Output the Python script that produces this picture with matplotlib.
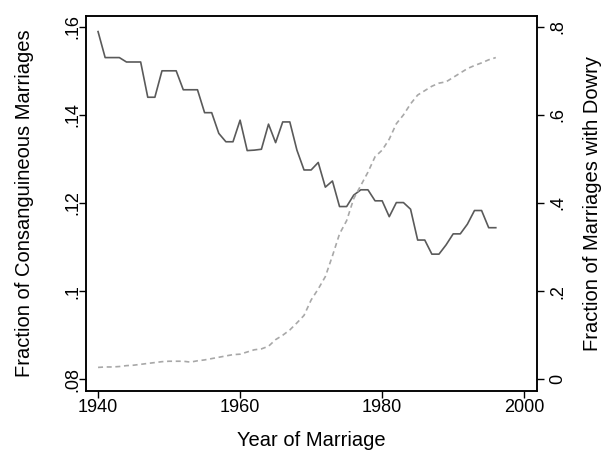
import matplotlib
matplotlib.use("Agg")
import matplotlib.pyplot as plt

# Year of marriage, 1940-1996
years = list(range(1940, 1997))

# Fraction of consanguineous marriages (left axis)
consang = [0.1589, 0.1530, 0.1530, 0.1530, 0.1520, 0.1520, 0.1520, 0.1440, 0.1440, 0.1500,
           0.1500, 0.1500, 0.1457, 0.1457, 0.1457, 0.1405, 0.1405, 0.1358, 0.1339, 0.1339,
           0.1388, 0.1319, 0.1320, 0.1322, 0.1379, 0.1337, 0.1384, 0.1384, 0.1320, 0.1275,
           0.1275, 0.1292, 0.1236, 0.1250, 0.1192, 0.1192, 0.1218, 0.1230, 0.1230, 0.1205,
           0.1205, 0.1169, 0.1201, 0.1201, 0.1186, 0.1116, 0.1116, 0.1084, 0.1084, 0.1105,
           0.1130, 0.1130, 0.1152, 0.1183, 0.1183, 0.1144, 0.1144]

# Fraction of marriages with dowry (right axis)
dowry = [0.027, 0.028, 0.028, 0.029, 0.031, 0.032, 0.034, 0.036, 0.038, 0.040,
         0.041, 0.041, 0.041, 0.039, 0.042, 0.044, 0.047, 0.050, 0.053, 0.056,
         0.057, 0.062, 0.067, 0.069, 0.075, 0.090, 0.100, 0.112, 0.128, 0.145,
         0.180, 0.205, 0.233, 0.280, 0.330, 0.360, 0.410, 0.440, 0.470, 0.505,
         0.520, 0.545, 0.580, 0.600, 0.625, 0.645, 0.655, 0.665, 0.672, 0.675,
         0.685, 0.695, 0.705, 0.712, 0.718, 0.725, 0.730]

left_ticks = [0.08, 0.10, 0.12, 0.14, 0.16]
left_labels = [".08", ".1", ".12", ".14", ".16"]
right_ticks = [0, 0.2, 0.4, 0.6, 0.8]
right_labels = ["0", ".2", ".4", ".6", ".8"]
x_ticks = [1940, 1960, 1980, 2000]

plt.rcParams['font.family'] = ['Liberation Sans', 'DejaVu Sans']

fig = plt.figure(figsize=(6.08, 4.53), dpi=100)
ax = fig.add_axes([0.1414, 0.1369, 0.7418, 0.8284])
ax2 = ax.twinx()

ax.plot(years, consang, color='#5a5a5a', lw=1.2)
ax2.plot(years, dowry, color='#a8a8a8', lw=1.2, linestyle=(0, (3, 2.2)))

ax.set_xlim(1938.3, 2001.8)
ax.set_ylim(0.07735, 0.1625)
ax2.set_ylim(-0.0265, 0.825)

ax.set_xticks(x_ticks)
ax.set_yticks(left_ticks)
ax.set_yticklabels(left_labels, rotation=90, va='center')
ax2.set_yticks(right_ticks)
ax2.set_yticklabels(right_labels, rotation=90, va='center')

for a in (ax, ax2):
    a.tick_params(direction='out', length=5, width=1, labelsize=13)
    for s in a.spines.values():
        s.set_linewidth(1.1)
ax.tick_params(axis='x', pad=1)
ax.tick_params(axis='y', pad=-2)
ax2.tick_params(axis='y', pad=4)

ax.set_xlabel("Year of Marriage", fontsize=14.5)
ax.set_ylabel("Fraction of Consanguineous Marriages", fontsize=14.5)
ax2.set_ylabel("Fraction of Marriages with Dowry", fontsize=14.5, rotation=90)
ax.xaxis.set_label_coords(0.5, -0.107)
ax.yaxis.set_label_coords(-0.116, 0.5)
ax2.yaxis.set_label_coords(1.102, 0.5)

fig.savefig("out.png", dpi=100)
